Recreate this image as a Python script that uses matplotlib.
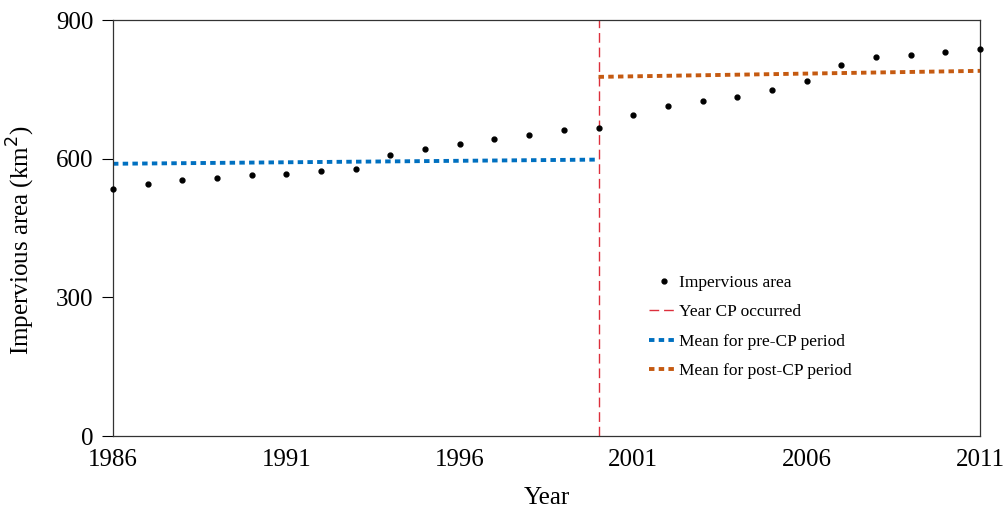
import numpy as np
import matplotlib.pyplot as plt

plt.rcParams['font.family'] = ['Liberation Serif', 'DejaVu Serif']

# Annual impervious area (km2)
years = np.arange(1986, 2012)
area = [534, 545, 553, 559, 565, 567, 573, 578, 609, 621, 631, 643, 651, 661, 667,
        694, 714, 724, 734, 749, 767, 803, 819, 825, 831, 837]

# Change point year and segment mean lines (start, end)
cp_year = 2000
pre_years = [1986, 2000]
pre_mean = [589, 598]
post_years = [2000, 2011]
post_mean = [777, 790]

fig = plt.figure(figsize=(10.06, 5.08), dpi=100)
ax = fig.add_axes([0.1123, 0.1417, 0.8619, 0.8189])

ax.plot(years, area, 'o', color='black', markersize=3.5, linestyle='none',
        clip_on=False, zorder=5, label='Impervious area')
ax.axvline(cp_year, color='#DC2F3C', linewidth=1, linestyle=(0, (7, 3.5)),
           label='Year CP occurred')
ax.plot(pre_years, pre_mean, color='#0070C0', linewidth=2.8, linestyle=(0, (1.4, 1.1)),
        label='Mean for pre-CP period')
ax.plot(post_years, post_mean, color='#C55A11', linewidth=2.8, linestyle=(0, (1.4, 1.1)),
        label='Mean for post-CP period')

ax.set_xlim(1986, 2011)
ax.set_ylim(0, 900)
ax.set_xticks([1986, 1991, 1996, 2001, 2006, 2011])
ax.set_yticks([0, 300, 600, 900])
ax.tick_params(axis='x', length=0, labelsize=18, pad=9)
ax.tick_params(axis='y', direction='out', length=8, width=0.8, labelsize=18, pad=6)
for s in ax.spines.values():
    s.set_linewidth(0.9)
    s.set_color('#333333')

ax.set_xlabel('Year', fontsize=18, labelpad=12)
ax.set_ylabel('Impervious area (km$^2$)', fontsize=18)
ax.yaxis.set_label_coords(-0.088, 0.47)

ax.legend(loc='upper left', bbox_to_anchor=(0.6, 0.425), frameon=False,
          fontsize=12.5, handlelength=1.7, handletextpad=0.05, labelspacing=0.76)

fig.savefig('out.png', dpi=100)
